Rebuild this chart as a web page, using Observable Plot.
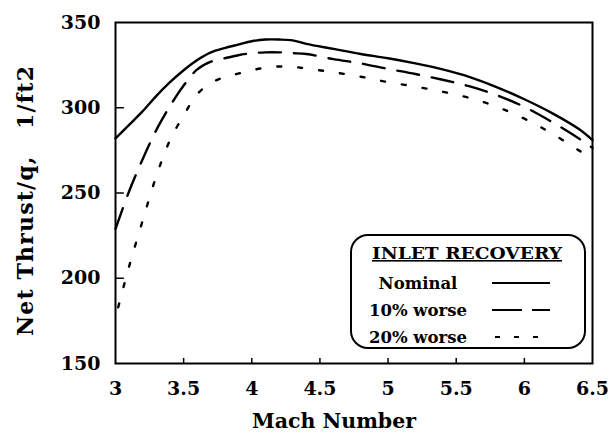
<!DOCTYPE html>
<html><head><meta charset="utf-8">
<script src="https://cdn.jsdelivr.net/npm/d3@7"></script>
<script src="https://cdn.jsdelivr.net/npm/@observablehq/plot@0.6"></script>
<style>body{margin:0;background:#fff;}</style>
</head><body><div id="chart"></div>
<script>
// ---- data ----
const machNominal  = [3.0, 3.1, 3.2, 3.3, 3.4, 3.5, 3.6, 3.7, 3.8, 3.9, 4.0, 4.1, 4.2, 4.3, 4.4, 4.6, 4.8, 5.0, 5.2, 5.4, 5.6, 5.8, 6.0, 6.2, 6.4, 6.5];
const thrustNominal = [282, 290, 298, 307, 315, 322, 328, 332.5, 335, 337, 339, 340, 340, 339.5, 337.5, 334.5, 331.5, 329, 326, 322.5, 318, 312, 305, 297, 287.5, 281];

const mach10 = [3.0, 3.1, 3.2, 3.3, 3.4, 3.5, 3.6, 3.7, 3.8, 3.9, 4.0, 4.1, 4.2, 4.3, 4.4, 4.6, 4.8, 5.0, 5.2, 5.4, 5.6, 5.8, 6.0, 6.2, 6.4, 6.5];
const thrust10 = [229, 251, 270, 287, 301, 313, 322.5, 327, 329, 330.8, 332, 332.5, 332.5, 332, 331.5, 328.5, 326, 322.8, 319.8, 316.4, 312.5, 307.3, 300.5, 291.8, 282, 276.5];

const mach20 = [3.02, 3.1, 3.2, 3.3, 3.4, 3.5, 3.6, 3.7, 3.8, 3.9, 4.0, 4.1, 4.2, 4.3, 4.4, 4.6, 4.8, 5.0, 5.2, 5.4, 5.6, 5.8, 6.0, 6.2, 6.4, 6.5];
const thrust20 = [183, 207, 234, 260, 281, 295.5, 308, 314.5, 318, 320, 322, 323.5, 324.2, 324, 323, 320.8, 318.2, 315, 312.4, 309.4, 305.7, 300.5, 293.6, 285, 275, 270];

const seriesNames = ["Nominal", "10% worse", "20% worse"];
const xTicks = [3, 3.5, 4, 4.5, 5, 5.5, 6, 6.5];
const yTicks = [150, 200, 250, 300, 350];
const xInnerTicks = [3.5, 4, 4.5, 5, 5.5, 6];
const yInnerTicks = [200, 250, 300];
const xLabel = "Mach Number";
const yLabel = "Net Thrust/q,\u00a0\u00a0 1/ft2";
const legendTitle = "INLET RECOVERY";

// ---- table built from the arrays ----
const machs = [machNominal, mach10, mach20];
const thrusts = [thrustNominal, thrust10, thrust20];
const rows = seriesNames.flatMap((s, k) => machs[k].map((m, i) => ({series: s, mach: m, thrust: thrusts[k][i]})));
const dashes = {"Nominal": null, "10% worse": "22,13", "20% worse": "4,17"};

const font = "'DejaVu Serif', serif";

const chart = Plot.plot({
  width: 611,
  height: 443,
  marginLeft: 115,
  marginRight: 19,
  marginTop: 22,
  marginBottom: 80,
  style: {fontFamily: font, fontWeight: "bold", fontSize: "19px", color: "black", background: "white"},
  x: {domain: [3, 6.5]},
  y: {domain: [150, 350]},
  marks: [
    Plot.frame({stroke: "black", strokeWidth: 2}),
    Plot.ruleX(xInnerTicks, {x: d => d, y1: 150, y2: 153, stroke: "black", strokeWidth: 1.5}),
    Plot.ruleY(yInnerTicks, {y: d => d, x1: 3, x2: 3.065, stroke: "black", strokeWidth: 1.5}),
    ...seriesNames.map(s => Plot.line(rows.filter(d => d.series === s), {
      x: "mach", y: "thrust", stroke: "black",
      strokeWidth: 2.4,
      strokeDasharray: dashes[s],
      curve: "catmull-rom"
    })),
    Plot.axisX(xTicks, {tickSize: 0, tickPadding: 18, tickFormat: d => String(d), label: null, fontSize: 19}),
    Plot.axisY(yTicks, {tickSize: 0, tickPadding: 15, tickFormat: d => String(d), label: null, fontSize: 19})
  ]
});

document.getElementById("chart").appendChild(chart);

// ---- axis titles and legend box ----
const svg = d3.select(chart);
const g = svg.append("g").attr("font-family", font).attr("font-weight", "bold").attr("fill", "black");
g.append("text").attr("transform", "translate(334,421)").attr("text-anchor", "middle")
  .attr("dy", "0.35em").attr("font-size", 20.5).text(xLabel);
g.append("text").attr("transform", "translate(25,201) rotate(-90)").attr("text-anchor", "middle")
  .attr("dy", "0.35em").attr("font-size", 22).attr("textLength", 270).attr("lengthAdjust", "spacing").text(yLabel);

g.append("rect").attr("x", 351).attr("y", 235).attr("width", 234).attr("height", 113)
  .attr("rx", 17).attr("fill", "white").attr("stroke", "black").attr("stroke-width", 2);
g.append("text").attr("x", 467).attr("y", 259).attr("text-anchor", "middle")
  .attr("font-size", 16).attr("textLength", 190).attr("lengthAdjust", "spacingAndGlyphs")
  .attr("text-decoration", "underline").text(legendTitle);
const rowY = [283, 310, 337];
seriesNames.forEach((s, i) => {
  g.append("text").attr("x", 418).attr("y", rowY[i]).attr("dy", "0.35em")
    .attr("text-anchor", "middle").attr("font-size", 16.5).text(s);
  const ln = g.append("line").attr("x1", 492).attr("x2", 550).attr("y1", rowY[i]).attr("y2", rowY[i])
    .attr("stroke", "black").attr("stroke-width", 2.2);
  if (i === 1) ln.attr("stroke-dasharray", "30,10");
  if (i === 2) ln.attr("x1", 495).attr("stroke-dasharray", "5,14");
});
</script>
</body></html>
